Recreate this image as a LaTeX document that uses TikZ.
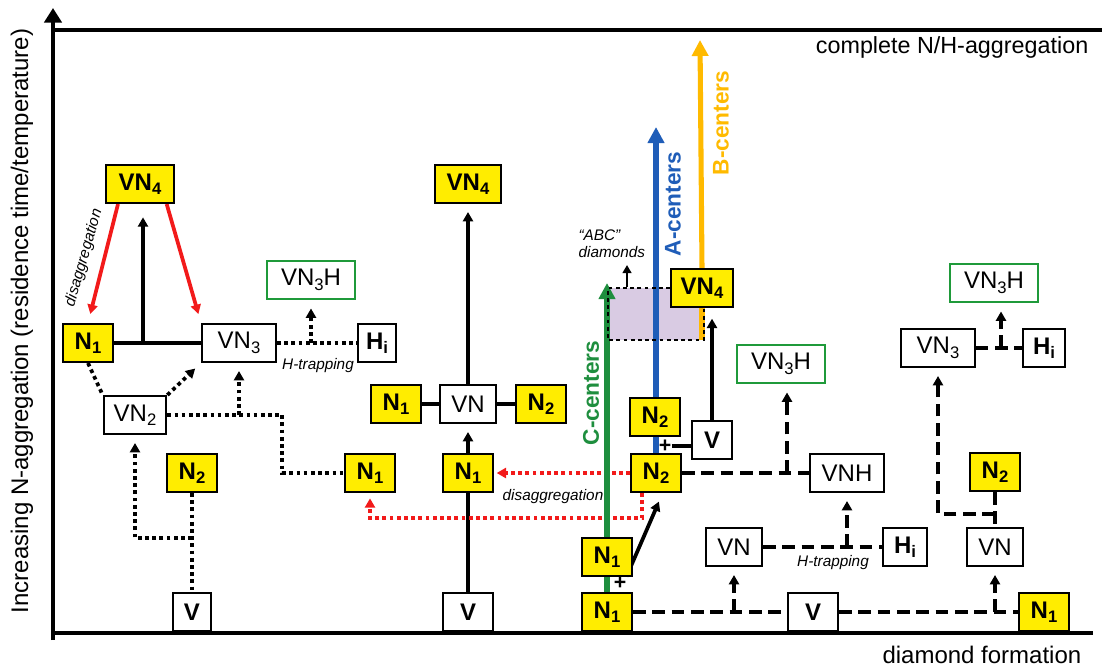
\documentclass[tikz,border=0pt]{standalone}
\usepackage{fontspec}
\setmainfont{Liberation Sans}
\usepackage{tikz}
\usetikzlibrary{arrows.meta, positioning, backgrounds, calc}
\definecolor{DefYellow}{HTML}{FFED00}
\definecolor{CGreen}{HTML}{1E8E3E}
\definecolor{HGreen}{HTML}{1F9A3A}
\definecolor{ABlue}{HTML}{1F5DB8}
\definecolor{BOrange}{HTML}{FFBA00}
\definecolor{RedLink}{HTML}{F21A1A}
\definecolor{AbcFill}{HTML}{D9CBE3}
\newcommand{\dsub}[2]{#1\raisebox{-3.3pt}{\fontsize{12.5}{13}\selectfont #2}}

\begin{document}
\begin{tikzpicture}[
    x=0.75pt, y=-0.75pt,
    font=\fontsize{18}{21}\selectfont,
    defect/.style={
      draw=black,
      line width=1.5pt,
      inner sep=0pt,
      minimum height=28.5pt,
      minimum width=37.5pt,
    },
    yel/.style={defect, fill=DefYellow, font=\fontsize{18}{21}\selectfont\bfseries},
    wht/.style={defect, fill=white},
    grn/.style={defect, draw=HGreen, line width=2.2pt, fill=white, minimum width=66pt},
    note/.style={font=\fontsize{11.5}{13}\selectfont\itshape, inner sep=1pt},
    centers/.style={rotate=90, font=\fontsize{17}{20}\selectfont\bfseries},
    link/.style={line width=2.8pt},
    dotln/.style={line width=2.8pt, dash pattern=on 2.8pt off 2.6pt},
    dashln/.style={line width=2.6pt, dash pattern=on 9.5pt off 5pt},
    reddot/.style={dotln, RedLink},
    toarr/.style={-{Triangle[length=7pt,width=7.5pt]}, shorten >=6pt},
    bigarr/.style={line width=3.8pt, -{Triangle[length=12pt,width=12pt]}},
  ]
    \useasboundingbox (0,0) rectangle (1102,668);

    % ---- axes ----
    \draw[line width=3.6pt, -{Triangle[length=11pt,width=13pt]}] (53,640) -- (53,8);
    \draw[line width=2.6pt] (55,30) -- (1102,30);
    \draw[line width=3pt] (51,633) -- (1093,633);
    \node[rotate=90] (ylab) at (22,321) {Increasing N-aggregation (residence time/temperature)};
    \node[anchor=east, font=\fontsize{17.5}{20}\selectfont] (toplab) at (1093,47) {complete N/H-aggregation};
    \node[anchor=east] (botlab) at (1086,655) {diamond formation};

    % ---- left cluster ----
    \node[yel, minimum width=51pt] (lvn4) at (140,184) {\dsub{VN}{4}};
    \node[yel] (ln1) at (88,343) {\dsub{N}{1}};
    \node[wht, minimum width=55.5pt] (lvn3) at (239,343) {\dsub{VN}{3}};
    \node[grn] (lvn3h) at (311,280) {\dsub{VN}{3}H};
    \node[wht, minimum width=29pt] (lhi) at (377,343) {\textbf{\dsub{H}{i}}};
    \node[wht, minimum width=47pt] (lvn2) at (135,415) {\dsub{VN}{2}};
    \node[yel] (ln2) at (192,473) {\dsub{N}{2}};
    \node[wht, minimum width=28.5pt] (lv) at (192,612) {\textbf{V}};
    \node[yel] (ln1b) at (370,473) {\dsub{N}{1}};
    \node[note, rotate=74] (ldis) at (84,258) {disaggregation};
    \node[note] (lhtrap) at (318,366) {H-trapping};
    \coordinate (lj0) at (143,343);
    \coordinate (lj3) at (192,538);

    % ---- middle cluster ----
    \node[yel, minimum width=49.5pt] (mvn4) at (468,184) {\dsub{VN}{4}};
    \node[yel] (mn1) at (396,404) {\dsub{N}{1}};
    \node[wht, minimum width=42pt] (mvn) at (468,404) {VN};
    \node[yel] (mn2) at (541,404) {\dsub{N}{2}};
    \node[yel] (mn1b) at (468,473) {\dsub{N}{1}};
    \node[wht] (mv) at (468,612) {\textbf{V}};
    \node[note] (mdis) at (553,497) {disaggregation};

    % ---- right cluster: C/A/B centers ----
    \node[yel] (rn1a) at (607,612) {\dsub{N}{1}};
    \node[yel] (rn1b) at (607,557) {\dsub{N}{1}};
    \node[yel] (rn2a) at (656,473) {\dsub{N}{2}};
    \node[yel] (rn2b) at (655,417) {\dsub{N}{2}};
    \node[wht, minimum width=30pt] (rv) at (712,440) {\textbf{V}};
    \node[yel, minimum width=46.5pt] (rvn4) at (702,288) {\dsub{VN}{4}};
    \node[inner sep=0pt, font=\fontsize{16}{18}\selectfont\bfseries] (rplus1) at (620,583) {+};
    \node[inner sep=0pt, font=\fontsize{16}{18}\selectfont\bfseries] (rplus2) at (665,446) {+};
    \node[note, anchor=west, align=left] (abc) at (577,244) {``ABC''\\diamonds};
    \node[centers, text=CGreen] (clab) at (591,393) {C-centers};
    \node[centers, text=ABlue] (alab) at (673,204) {A-centers};
    \node[centers, text=BOrange] (blab) at (721,123) {B-centers};
    \coordinate (ctip) at (607,283);
    \coordinate (atip) at (656,127);
    \coordinate (btip) at (700,40);
    \coordinate (abcnw) at (608,288);
    \coordinate (abcse) at (704,340);
    \coordinate (abcup) at (627,287);

    % ---- right cluster: H-trapping ----
    \node[grn] (rvn3h) at (781,364) {\dsub{VN}{3}H};
    \node[wht, minimum width=56pt] (rvnh) at (847,473) {VNH};
    \node[wht, minimum width=42pt] (rvn) at (734,547) {VN};
    \node[wht, minimum width=33pt] (rhi) at (905,547) {\textbf{\dsub{H}{i}}};
    \node[wht] (rv2) at (813,612) {\textbf{V}};
    \node[yel] (rn1c) at (1044,612) {\dsub{N}{1}};
    \node[wht, minimum width=42pt] (rvn2) at (995,547) {VN};
    \node[yel] (rn2c) at (995,472) {\dsub{N}{2}};
    \node[wht, minimum width=55pt] (rvn3) at (938,348) {\dsub{VN}{3}};
    \node[wht, minimum width=32pt] (rhi2) at (1044,348) {\textbf{\dsub{H}{i}}};
    \node[grn] (rvn3h2) at (994,283) {\dsub{VN}{3}H};
    \node[note] (rhtrap) at (833,563) {H-trapping};
    \coordinate (rj1) at (787,473);
    \coordinate (rj2) at (995,514);
    \coordinate (rj3) at (1001,348);

    \begin{scope}[on background layer]
      % left
      \draw[link] (ln1) -- (lvn3);
      \draw[link, toarr, shorten >=10pt] (lj0) -- (lj0 |- lvn4.south);
      \draw[RedLink, link, toarr, shorten >=7pt] ([xshift=-16.5pt]lvn4.south) -- (ln1.north);
      \draw[RedLink, link, toarr, shorten >=7pt] ([xshift=20pt]lvn4.south) -- (lvn3.north west);
      \draw[dotln] (lvn3.east) -- (lvn3.east -| lhi.west);
      \draw[dotln, toarr] (lvn3h.south |- lvn3.east) -- (lvn3h.south);
      \draw[dotln] (ln1.south) -- (lvn2.north west);
      \draw[dotln, toarr] (lvn2.north east) -- (lvn3.south west);
      \draw[dotln] (lvn2.east) -- ++(115,0) |- (ln1b.west);
      \draw[dotln, toarr] (lvn2.east -| lvn3.south) -- (lvn3.south);
      \draw[dotln] (ln2.south) -- (lv.north);
      \draw[dotln, toarr] (lj3) -| (lvn2.south);

      % middle
      \draw[link] (mn1) -- (mvn);
      \draw[link] (mvn) -- (mn2);
      \draw[link, toarr] (mvn.north) -- (mvn4.south);
      \draw[link, toarr] (mn1b.north) -- (mvn.south);
      \draw[link] (mv.north) -- (mn1b.south);
      \draw[reddot, toarr, shorten >=2pt] (rn2a.west) -- (mn1b.east);
      \draw[reddot, toarr, shorten >=4pt] ([xshift=-10.5pt]rn2a.south) -- ++(0,25) -| (ln1b.south);

      % right: centers
      \fill[AbcFill] (abcnw) rectangle (abcse);
      \draw[CGreen, bigarr] (rn1a.north) -- (ctip);
      \draw[ABlue, bigarr] (rn2a.north) -- (atip);
      \draw[BOrange, bigarr] (rvn4.north) -- (btip);
      \draw[BOrange, line width=3.8pt] (rvn4.south) -- (rvn4.south |- abcse);
      \draw[dotln, line width=2.2pt] (rvn4.west) -- (abcnw) -- (abcnw |- abcse) -- (abcse) -- (abcse |- rvn4.south);
      \draw[line width=1.8pt, -{Triangle[length=6pt,width=6.5pt]}] (abcup) -- ++(0,-22);
      \draw[link, toarr, shorten >=7pt] (rplus1.north east) -- ([xshift=5pt]rn2a.south);
      \draw[link] (rplus2.east) -- (rplus2.east -| rv.west);
      \draw[link, toarr, shorten >=8pt] (rv.north) -- (rv.north |- rvn4.south);

      % right: H-trapping
      \draw[dashln] (rn2a.east) -- (rvnh.west);
      \draw[dashln, toarr] (rj1) -- (rj1 |- rvn3h.south);
      \draw[dashln] (rvn.east) -- (rhi.west);
      \draw[dashln, toarr] (rvnh.south |- rvn.east) -- (rvnh.south);
      \draw[dashln] (rn1a.east) -- (rv2.west);
      \draw[dashln, toarr] (rvn.south |- rn1a.east) -- (rvn.south);
      \draw[dashln] (rv2.east) -- (rn1c.west);
      \draw[dashln, toarr] (rvn2.south |- rv2.east) -- (rvn2.south);
      \draw[dashln] (rn2c.south) -- (rvn2.north);
      \draw[dashln, toarr] (rj2) -| (rvn3.south);
      \draw[dashln] (rvn3.east) -- (rhi2.west);
      \draw[dashln, toarr] (rj3) -- (rj3 |- rvn3h2.south);
    \end{scope}
  \end{tikzpicture}
\end{document}
